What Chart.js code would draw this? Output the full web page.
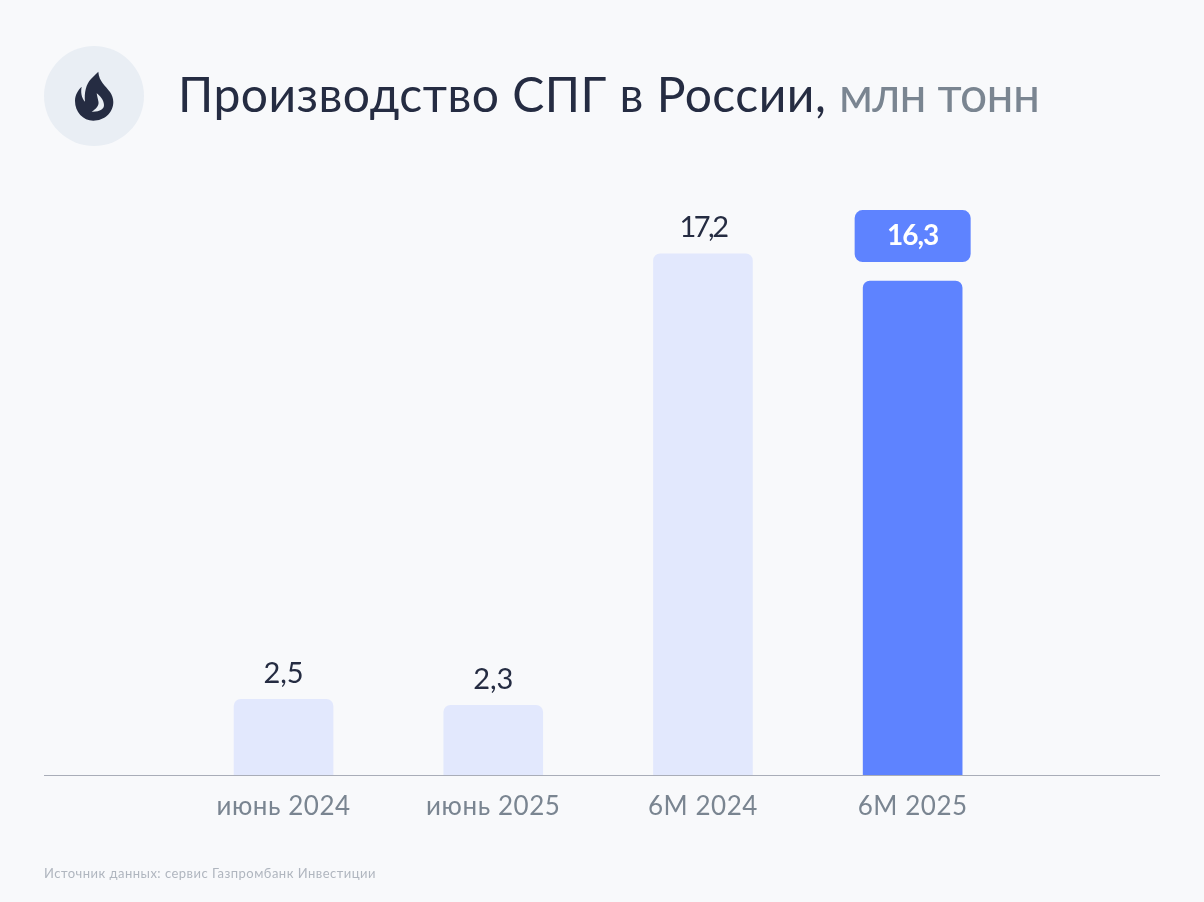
<!DOCTYPE html>
<html lang="ru"><head><meta charset="utf-8">
<script src="https://cdn.jsdelivr.net/npm/chart.js@4"></script>
<style>
html,body{margin:0;padding:0;background:#f8f9fb;width:1204px;height:902px;overflow:hidden}
#wrap{position:relative;width:1204px;height:902px;font-family:Lato,"Noto Sans",sans-serif}
canvas{position:absolute;left:0;top:0}
#title{position:absolute;left:178px;top:64px;font-size:48px;line-height:60px;color:#252c42;white-space:nowrap;letter-spacing:.47px}
#title span{color:#7a8591;letter-spacing:-.7px}
#src{position:absolute;left:44px;top:865px;font-size:13px;line-height:16px;color:#b0b6bf;white-space:nowrap;letter-spacing:.48px}
#icon{position:absolute;left:44px;top:46px;width:100px;height:100px}
</style></head><body>
<div id="wrap">
<canvas id="c" width="1204" height="902"></canvas>
<svg id="icon" viewBox="0 0 100 100"><circle cx="50" cy="50" r="50" fill="#e9eef4"/>
<path fill="#252c42" d="M54.300 25.700C55 36 62 40 66 46C68 49 69.300 52 69.300 56C69.300 67 60 74.700 49.300 74.700C39 74.700 31 66 31 55C31 49 34 44 37.700 40.700C36.500 46 37.500 52 41 55.700C40 47 42 38 47 33C49.500 30.500 52 28 54.300 25.700Z"/>
<path fill="#e9eef4" d="M52.700 47.300C56 50 60 54 60 59C60 63 56 66 47.700 65.700C52 63 55 60 54.500 56C54 53 53 50 52.700 47.300Z"/>
</svg>
<div id="title">Производство СПГ в России, <span>млн тонн</span></div>
<div id="src">Источник данных: сервис Газпромбанк Инвестиции</div>
</div>
<script>
const categories = ["июнь 2024","июнь 2025","6М 2024","6М 2025"];
const values = [2.5,2.3,17.2,16.3];
const valueLabels = ["2,5","2,3","17,2","16,3"];
const barColors = ["#e2e8fd","#e2e8fd","#e2e8fd","#5e83ff"];
const FONT = 'Lato,"Noto Sans",sans-serif';
const deco = {
  id:'deco',
  beforeDraw(chart){ chart.ctx.letterSpacing='0.55px'; },
  afterDatasetsDraw(chart){
    const ctx = chart.ctx, y0 = chart.scales.y.getPixelForValue(0);
    ctx.save();
    ctx.strokeStyle = '#a9adb8'; ctx.lineWidth = 1;
    ctx.beginPath(); ctx.moveTo(44,y0+.5); ctx.lineTo(1160,y0+.5); ctx.stroke();
    ctx.textAlign='center'; ctx.textBaseline='middle';
    chart.getDatasetMeta(0).data.forEach((b,i)=>{
      const narrow = valueLabels[i].startsWith('1');
      if(i===3){
        ctx.fillStyle='#5e83ff';
        ctx.beginPath(); ctx.roundRect(b.x-58,b.y-71,116,52,8); ctx.fill();
        ctx.fillStyle='#ffffff'; ctx.font='700 28px '+FONT;
        ctx.letterSpacing='-1px';
        ctx.fillText(valueLabels[i],b.x,b.y-45);
      } else {
        ctx.fillStyle='#252c42'; ctx.font='400 29px '+FONT;
        ctx.letterSpacing=narrow?'-2.5px':'0px';
        ctx.fillText(valueLabels[i],b.x,b.y-26);
      }
    });
    ctx.restore();
  }
};
new Chart(document.getElementById('c'),{
  type:'bar',
  data:{labels:categories,datasets:[{data:values,backgroundColor:barColors,barThickness:99,
    borderRadius:{topLeft:7,topRight:7,bottomLeft:0,bottomRight:0},borderSkipped:false}]},
  options:{responsive:false,animation:false,devicePixelRatio:1,
    layout:{padding:{left:178.7,right:186.5,top:169,bottom:0}},
    plugins:{legend:{display:false},tooltip:{enabled:false}},
    scales:{
      x:{grid:{display:false},border:{display:false},
        afterFit(s){s.height=127;},
        ticks:{color:'#7a8591',font:{family:FONT,size:26},padding:8,maxRotation:0}},
      y:{display:false,min:0,max:20}
    }},
  plugins:[deco]
});
</script>
</body></html>
